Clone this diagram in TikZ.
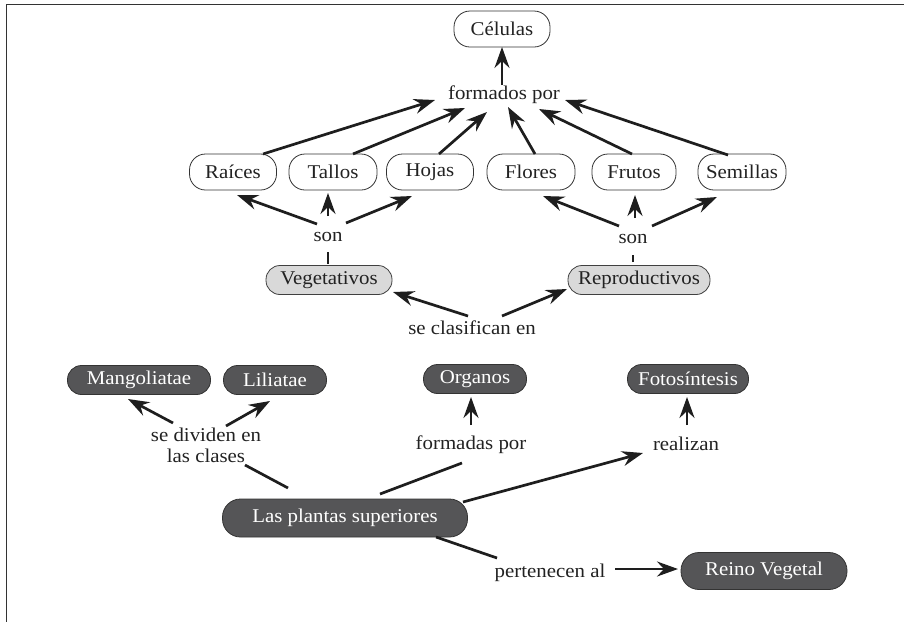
\documentclass[tikz,border=0pt]{standalone}
\usepackage{fontspec}
\setmainfont{Liberation Serif}[FakeStretch=1.07]
\usetikzlibrary{arrows.meta,calc}
\definecolor{dk}{HTML}{555557}
\definecolor{lg}{HTML}{D9D9D9}
\definecolor{ln}{HTML}{1E1E1E}
\definecolor{fr}{HTML}{333333}
\definecolor{tx}{HTML}{222222}
\begin{document}
\begin{tikzpicture}[x=1pt,y=-1pt,font=\fontsize{19.5}{21}\selectfont,text=tx,
  wbox/.style={draw=black!80,line width=0.8pt,fill=white,rounded corners=16pt,minimum height=36pt,inner sep=0pt},
  gbox/.style={draw=black!75,line width=0.8pt,fill=lg,rounded corners=14pt,minimum height=29pt,inner sep=0pt},
  dbox/.style={draw=black!80,line width=0.8pt,fill=dk,text=white,rounded corners=14pt,minimum height=29pt,inner sep=0pt},
  lbl/.style={inner sep=0pt,align=center},
  arr/.style={draw=ln,line width=2.7pt,-{Stealth[length=21pt,width=15pt,inset=7pt]}},
  con/.style={draw=ln,line width=2.7pt}]
\useasboundingbox (0,0) rectangle (904,622);
% frame
\coordinate (ftl) at (6.5,4.5);
\coordinate (ftr) at (904,4.5);
\coordinate (fbl) at (6.5,622);
\draw[fr,line width=1.6pt] (ftr) -- (ftl) -- (fbl);
% nodes
\node[wbox,minimum width=96pt] (celulas) at (502,29) {Células};
\node[lbl] (formados) at (504,95) {formados por};
\node[wbox,minimum width=87pt] (raices) at (233,172) {Raíces};
\node[wbox,minimum width=88pt] (tallos) at (333,172) {Tallos};
\node[wbox,minimum width=87pt] (hojas) at (430,172) {Hojas};
\node[wbox,minimum width=88pt] (flores) at (531,172) {Flores};
\node[wbox,minimum width=84pt] (frutos) at (634,172) {Frutos};
\node[wbox,minimum width=88pt] (semillas) at (742,172) {Semillas};
\node[lbl] (sonA) at (328,237) {son};
\node[lbl] (sonB) at (633,239) {son};
\node[gbox,minimum width=126pt] (veget) at (329,280) {Vegetativos};
\node[gbox,minimum width=142pt] (repro) at (639,280) {Reproductivos};
\node[lbl] (clasif) at (472,328) {se clasifican en};
\node[dbox,minimum width=143pt] (mango) at (139,380) {Mangoliatae};
\node[dbox,minimum width=103pt] (lili) at (275,380) {Liliatae};
\node[dbox,minimum width=103pt] (organos) at (475,379) {Organos};
\node[dbox,minimum width=121pt] (foto) at (688,379) {Fotosíntesis};
\node[lbl] (dividen) at (206,445) {se dividen en\\las clases};
\node[lbl] (formadas) at (471,445) {formadas por};
\node[lbl] (realizan) at (686,444) {realizan};
\node[dbox,minimum width=245pt,minimum height=38pt,rounded corners=18pt] (plantas) at (345,518) {Las plantas superiores};
\node[lbl] (pertenecen) at (550,573) {pertenecen al};
\node[dbox,minimum width=166pt,minimum height=37pt,rounded corners=18pt] (reino) at (764,571) {Reino Vegetal};
% connectors
\draw[arr] ($(formados)+(-2,-10)$) -- ($(celulas)+(0,18)$);
\draw[arr] ($(raices)+(30,-18)$) -- ($(formados)+(-69,5)$);
\draw[arr] ($(tallos)+(20,-18)$) -- ($(formados)+(-39,13)$);
\draw[arr] ($(hojas)+(9,-18)$) -- ($(formados)+(-17,17)$);
\draw[arr] ($(flores)+(4,-18)$) -- ($(formados)+(4,12)$);
\draw[arr] ($(frutos)+(-2,-18)$) -- ($(formados)+(35,14)$);
\draw[arr] ($(semillas)+(-14,-17)$) -- ($(formados)+(61,5)$);
\draw[arr] ($(sonA)+(-11,-13)$) -- ($(raices)+(4,23)$);
\draw[arr] ($(sonA)+(0,-21)$) -- ($(tallos)+(-5,21)$);
\draw[arr] ($(sonA)+(18,-14)$) -- ($(hojas)+(-18,24)$);
\draw[con] ($(veget)+(-1,-16)$) -- ($(sonA)+(0,15)$);
\draw[arr] ($(sonB)+(-14,-13)$) -- ($(flores)+(12,24)$);
\draw[arr] ($(sonB)+(2,-21)$) -- ($(frutos)+(1,23)$);
\draw[arr] ($(sonB)+(19,-13)$) -- ($(semillas)+(-25,25)$);
\draw[con] ($(repro)+(-6,-18)$) -- ($(sonB)+(0,16)$);
\draw[arr] ($(clasif)+(-4,-12)$) -- ($(veget)+(64,12)$);
\draw[arr] ($(clasif)+(30,-12)$) -- ($(repro)+(-72,9)$);
\draw[arr] ($(dividen)+(-33,-22)$) -- ($(mango)+(-11,19)$);
\draw[arr] ($(dividen)+(20,-19)$) -- ($(lili)+(-5,21)$);
\draw[con] ($(plantas)+(-57,-30)$) -- ($(dividen)+(39,20)$);
\draw[arr] ($(formadas)+(0,-20)$) -- ($(organos)+(-4,18)$);
\draw[con] ($(plantas)+(35,-24)$) -- ($(formadas)+(-9,18)$);
\draw[arr] ($(realizan)+(1,-19)$) -- ($(foto)+(-1,18)$);
\draw[arr] ($(plantas)+(118,-16)$) -- ($(realizan)+(-43,9)$);
\draw[con] ($(plantas)+(91,19)$) -- ($(pertenecen)+(-53,-15)$);
\draw[arr] ($(pertenecen)+(65,-4)$) -- ($(reino)+(-86,-2)$);
\end{tikzpicture}
\end{document}
